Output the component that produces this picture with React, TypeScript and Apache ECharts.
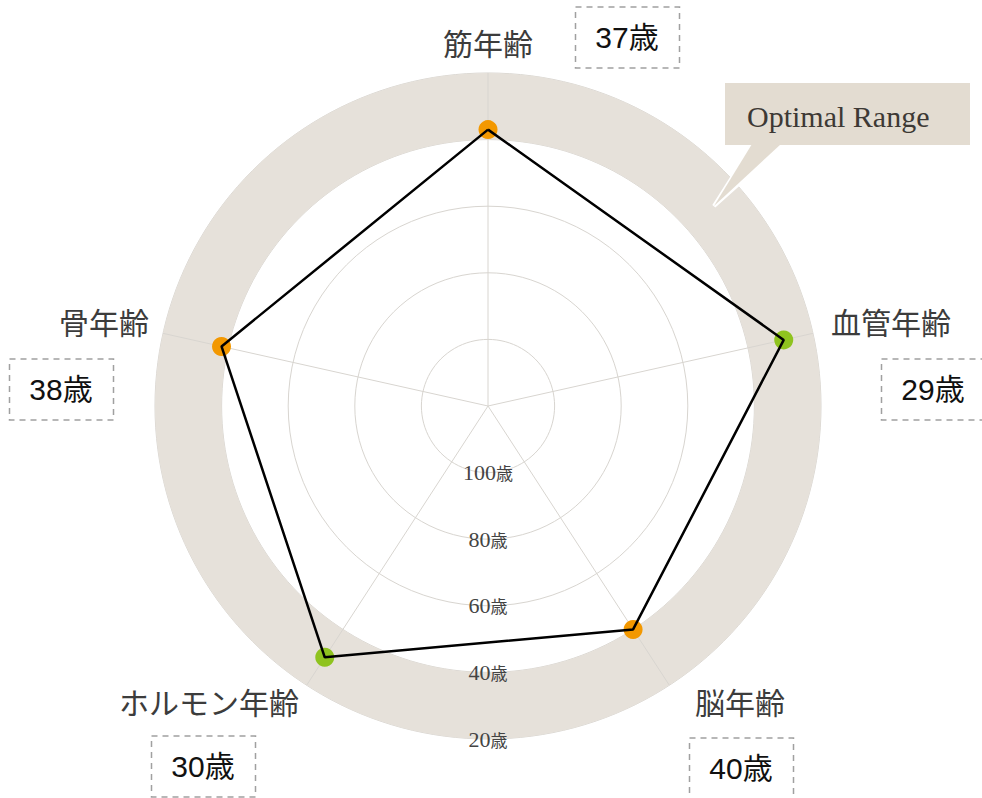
import React, { useEffect, useRef } from 'react';
import * as echarts from 'echarts';

// ---- data ----
const categories = ['筋年齢', '血管年齢', '脳年齢', 'ホルモン年齢', '骨年齢'];
const ages = [37, 29, 40, 30, 38];
const tickAges = [100, 80, 60, 40, 20];
const ageUnit = '歳';
const centerAge = 120; // age at the centre of the chart
const rimAge = 20; // age at the outer rim
const optimalLabel = 'Optimal Range';

// ---- styles / layout ----
const axisAngles = [0, 77.4, 147, 213, 282.6]; // clockwise from top, degrees
const markerColors = ['#f39800', '#8fc31f', '#f39800', '#8fc31f', '#f39800'];
const CENTER = [488, 406];
const RADIUS = 333;
const nameLayout = [
  { x: 488, y: 42, align: 'center' },
  { x: 831, y: 321, align: 'left' },
  { x: 740, y: 701, align: 'center' },
  { x: 209, y: 701, align: 'center' },
  { x: 149, y: 321, align: 'right' },
];
const boxLayout = [
  [627, 37],
  [933, 389],
  [741, 768],
  [203, 766],
  [61, 389],
];
const BOX_W = 104;
const BOX_H = 61;
const CJK = '"Noto Sans CJK JP", sans-serif';
const GRID = '#d8d5d0';

export default function App() {
  const ref = useRef<HTMLDivElement>(null);

  useEffect(() => {
    if (!ref.current) return;
    const chart = echarts.init(ref.current, null, { renderer: 'svg' });
    const span = centerAge - rimAge;
    const score = (a: number) => centerAge - a;

    const graphic: any[] = [];
    categories.forEach((name, i) => {
      const l = nameLayout[i];
      graphic.push({
        type: 'text',
        x: l.x,
        y: l.y,
        z: 20,
        style: {
          text: name,
          fontSize: 30,
          fontFamily: CJK,
          fill: '#3c3c3c',
          align: l.align,
          verticalAlign: 'middle',
        },
      });
      const [bx, by] = boxLayout[i];
      graphic.push({
        type: 'rect',
        z: 20,
        shape: { x: bx - BOX_W / 2 + 0.5, y: by - BOX_H / 2 + 0.5, width: BOX_W, height: BOX_H },
        style: { fill: 'none', stroke: '#a0a0a0', lineWidth: 1.5, lineDash: [6, 5] },
      });
      graphic.push({
        type: 'text',
        x: bx,
        y: by,
        z: 20,
        style: {
          text: ages[i] + ageUnit,
          fontSize: 30,
          fontFamily: '"Liberation Sans", "Noto Sans CJK JP", sans-serif',
          fill: '#111',
          align: 'center',
          verticalAlign: 'middle',
        },
      });
    });
    // callout
    graphic.push({
      type: 'polyline',
      z: 20,
      shape: { points: [[752, 146], [714, 206], [781, 146]] },
      style: { stroke: '#ffffff', lineWidth: 4, fill: 'none' },
    });
    graphic.push({
      type: 'polygon',
      z: 21,
      shape: { points: [[752, 144], [714, 206], [781, 144]] },
      style: { fill: '#e3dcd1' },
    });
    graphic.push({
      type: 'rect',
      z: 21,
      shape: { x: 725, y: 83, width: 245, height: 62 },
      style: { fill: '#e3dcd1' },
    });
    graphic.push({
      type: 'text',
      x: 747,
      y: 116,
      z: 22,
      style: {
        text: optimalLabel,
        fontSize: 30,
        fontFamily: '"Liberation Serif", serif',
        fill: '#3d3935',
        align: 'left',
        verticalAlign: 'middle',
      },
    });

    const spokes = axisAngles.map((a) => ({
      type: 'line',
      coordinateSystem: 'polar',
      polarIndex: 0,
      symbol: 'none',
      silent: true,
      z: 2,
      lineStyle: { color: GRID, width: 1 },
      data: [
        [0, a],
        [span, a],
      ],
    }));

    const polygon = ages.map((a, i) => [score(a), axisAngles[i]]);
    polygon.push(polygon[0]);

    const option: any = {
      animation: false,
      backgroundColor: '#ffffff',
      polar: [
        { center: CENTER, radius: RADIUS },
        { center: CENTER, radius: RADIUS },
      ],
      angleAxis: [
        { polarIndex: 0, type: 'value', min: 0, max: 360, startAngle: 90, clockwise: true, show: false },
        { polarIndex: 1, type: 'value', min: 0, max: 360, startAngle: 270, clockwise: true, show: false },
      ],
      radiusAxis: [
        {
          polarIndex: 0,
          type: 'value',
          min: 0,
          max: span,
          interval: 20,
          axisLine: { show: false },
          axisTick: { show: false },
          axisLabel: { show: false },
          splitLine: { show: true, lineStyle: { color: GRID, width: 1 } },
          splitArea: {
            show: true,
            areaStyle: {
              color: ['rgba(0,0,0,0)', 'rgba(0,0,0,0)', 'rgba(0,0,0,0)', 'rgba(0,0,0,0)', '#e6e1da'],
            },
          },
        },
        {
          polarIndex: 1,
          type: 'value',
          min: 0,
          max: span,
          interval: 20,
          z: 10,
          axisLine: { show: false },
          axisTick: { show: false },
          splitLine: { show: false },
          axisLabel: {
            show: true,
            showMinLabel: false,
            margin: 0,
            align: 'center',
            verticalAlign: 'middle',
            formatter: (v: number) => {
              const age = centerAge - v;
              return tickAges.indexOf(age) >= 0 ? `{n|${age}}{u|${ageUnit}}` : '';
            },
            rich: {
              n: { fontSize: 22, fontFamily: '"Liberation Serif", serif', color: '#444' },
              u: { fontSize: 17, fontFamily: CJK, color: '#444' },
            },
          },
        },
      ],
      graphic,
      series: [
        ...spokes,
        {
          type: 'scatter',
          coordinateSystem: 'polar',
          polarIndex: 0,
          symbolSize: 19,
          z: 3,
          itemStyle: { opacity: 1 },
          data: ages.map((a, i) => ({
            value: [score(a), axisAngles[i]],
            itemStyle: { color: markerColors[i], opacity: 1 },
          })),
        },
        {
          type: 'line',
          coordinateSystem: 'polar',
          polarIndex: 0,
          z: 4,
          symbol: 'none',
          silent: true,
          lineStyle: { color: '#000000', width: 2.5 },
          data: polygon,
        },
      ],
    };
    chart.setOption(option);
    return () => chart.dispose();
  }, []);

  return (
    <div
      ref={ref}
      style={{ position: 'fixed', left: 0, top: 0, width: 982, height: 798, background: '#fff' }}
    />
  );
}
